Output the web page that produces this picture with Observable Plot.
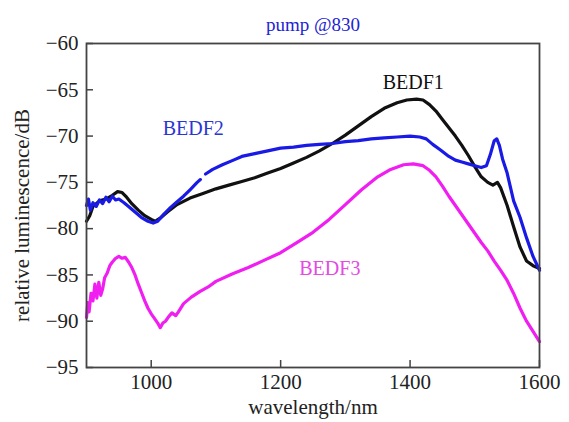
<!DOCTYPE html>
<html>
<head>
<meta charset="utf-8">
<script src="https://cdn.jsdelivr.net/npm/d3@7"></script>
<script src="https://cdn.jsdelivr.net/npm/@observablehq/plot@0.6"></script>
<style>
  html, body { margin: 0; padding: 0; background: #fff; }
  #chart svg { display: block; }
</style>
</head>
<body>
<div id="chart"></div>
<script>
const xTicks = [1000, 1200, 1400, 1600];
const yTicks = [-95, -90, -85, -80, -75, -70, -65, -60];

const bedf1 = [
  [900,-79.2],[905,-78.6],[910,-77.6],[915,-77.3],[920,-77.0],[930,-76.8],[940,-76.4],[948,-76.0],[955,-76.1],
  [962,-76.6],[970,-77.3],[980,-78.0],[990,-78.6],[1000,-79.0],[1006,-79.2],[1015,-78.8],[1025,-78.2],[1040,-77.4],
  [1060,-76.7],[1080,-76.2],[1100,-75.7],[1120,-75.3],[1140,-74.9],[1160,-74.5],[1180,-74.0],[1200,-73.5],
  [1220,-72.9],[1240,-72.3],[1260,-71.6],[1280,-70.8],[1300,-69.9],[1320,-68.9],[1340,-67.9],[1360,-67.0],
  [1380,-66.4],[1395,-66.1],[1410,-66.0],[1420,-66.1],[1430,-66.6],[1440,-67.3],[1450,-68.2],[1460,-69.1],
  [1470,-70.0],[1480,-71.0],[1490,-72.1],[1500,-73.3],[1510,-74.4],[1520,-75.0],[1528,-75.3],[1535,-75.0],
  [1540,-75.6],[1550,-77.5],[1560,-79.8],[1570,-82.0],[1580,-83.5],[1590,-84.0],[1600,-84.3]
];

const bedf2 = [
  [900,-77.5],[903,-76.8],[906,-78.0],[910,-77.2],[915,-77.6],[920,-76.9],[925,-77.3],[930,-76.6],[935,-77.1],
  [940,-76.5],[945,-76.9],[950,-76.8],[958,-77.2],[965,-77.6],[975,-78.2],[985,-78.8],[995,-79.2],[1003,-79.4],
  [1010,-79.2],[1020,-78.4],[1030,-77.7],[1040,-77.1],[1050,-76.5],[1060,-75.8],[1071,-75.0],[1076,-74.7],
  [1080,null],[1084,-74.1],[1095,-73.6],[1110,-73.1],[1127,-72.6],[1140,-72.2],[1160,-71.9],[1180,-71.6],
  [1200,-71.3],[1220,-71.2],[1240,-71.0],[1260,-70.9],[1280,-70.8],[1300,-70.6],[1320,-70.5],[1340,-70.3],
  [1360,-70.2],[1380,-70.1],[1400,-70.0],[1415,-70.1],[1425,-70.3],[1435,-70.9],[1447,-71.5],[1460,-72.2],
  [1470,-72.6],[1480,-72.8],[1490,-73.0],[1500,-73.2],[1510,-73.4],[1518,-73.2],[1524,-72.0],[1530,-70.5],
  [1534,-70.3],[1538,-71.0],[1543,-72.5],[1550,-74.0],[1560,-77.0],[1570,-78.8],[1580,-81.0],[1590,-83.0],
  [1600,-84.5]
];

const bedf3 = [
  [900,-89.6],[902,-88.0],[904,-89.0],[907,-87.0],[910,-87.8],[913,-86.0],[916,-87.5],[919,-85.8],[922,-87.2],
  [925,-86.5],[928,-85.3],[932,-84.8],[936,-84.0],[940,-83.6],[945,-83.2],[950,-83.0],[955,-83.2],[960,-83.1],
  [965,-83.6],[970,-84.2],[975,-85.0],[980,-86.0],[985,-86.9],[990,-87.8],[995,-88.6],[1000,-89.2],[1005,-89.7],
  [1010,-90.2],[1014,-90.7],[1018,-90.2],[1022,-90.0],[1027,-89.5],[1032,-89.1],[1038,-89.4],[1042,-89.0],
  [1050,-88.1],[1062,-87.4],[1075,-86.8],[1088,-86.3],[1100,-85.7],[1125,-84.9],[1150,-84.2],[1175,-83.4],
  [1200,-82.6],[1225,-81.5],[1250,-80.4],[1275,-79.0],[1300,-77.4],[1325,-75.8],[1350,-74.4],[1370,-73.6],
  [1390,-73.1],[1405,-73.0],[1420,-73.2],[1430,-73.7],[1440,-74.4],[1450,-75.4],
  [1460,-76.5],[1470,-77.5],[1480,-78.5],[1490,-79.5],[1500,-80.5],[1510,-81.5],[1520,-82.4],[1530,-83.5],
  [1540,-84.5],[1550,-85.6],[1560,-87.0],[1570,-88.6],[1580,-90.0],[1590,-91.1],[1600,-92.2]
];

const labelNames = ["BEDF1", "BEDF2", "BEDF3"];
const labelX = [1405, 1065, 1276];
const labelY = [-64.2, -69.2, -84.3];
const seriesColors = ["#111111", "#1a1ae6", "#f01ef0"];
const labelColors = ["#111111", "#2a36d4", "#e44ae4"];
const titleText = "pump @830";
const xLabel = "wavelength/nm";
const yLabel = "relative luminescence/dB";

const toRows = arr => arr.map(([w, v]) => ({w, v}));
const labels = labelNames.map((n, i) => ({name: n, w: labelX[i], v: labelY[i], c: labelColors[i]}));

const W = 569, H = 422, mL = 86, mR = 30, mT = 43, mB = 55;
const plotH = H - mT - mB, plotW = W - mL - mR;
const font = "'Liberation Serif', 'Times New Roman', serif";

const chart = Plot.plot({
  width: W, height: H,
  marginLeft: mL, marginRight: mR, marginTop: mT, marginBottom: mB,
  style: {fontFamily: font, fontSize: "20px", color: "#222", background: "#fff", overflow: "visible"},
  x: {domain: [900, 1600]},
  y: {domain: [-95, -60]},
  marks: [
    Plot.line(toRows(bedf3), {x: "w", y: "v", stroke: seriesColors[2], strokeWidth: 3.2}),
    Plot.line(toRows(bedf1), {x: "w", y: "v", stroke: seriesColors[0], strokeWidth: 3.2}),
    Plot.line(toRows(bedf2), {x: "w", y: "v", stroke: seriesColors[1], strokeWidth: 3.2}),
    Plot.tickY(yTicks, {y: d => d, stroke: "#444", strokeWidth: 1.5, insetRight: plotW - 7}),
    Plot.tickX(xTicks, {x: d => d, stroke: "#444", strokeWidth: 1.5, insetTop: plotH - 7}),
    Plot.frame({stroke: "#444", strokeWidth: 1.8}),
    Plot.axisY({ticks: yTicks, tickSize: 0, tickPadding: 8, fontSize: 21, label: null}),
    Plot.axisX({ticks: xTicks, tickSize: 0, tickPadding: 7, fontSize: 21, tickFormat: d3.format("d"), label: null}),
    Plot.text([xLabel], {frameAnchor: "bottom", dy: 46, text: d => d, fontSize: 21, fill: "#222"}),
    Plot.text([yLabel], {frameAnchor: "left", textAnchor: "middle", dx: -64, dy: 10, rotate: -90, text: d => d, fontSize: 21, fill: "#222"}),
    Plot.text(labels, {x: "w", y: "v", text: "name", fill: "c", fontSize: 20}),
    Plot.text([titleText], {frameAnchor: "top", dy: -26, text: d => d, fill: "#2222d6", fontSize: 19})
  ]
});
document.getElementById("chart").appendChild(chart);
</script>
</body>
</html>
